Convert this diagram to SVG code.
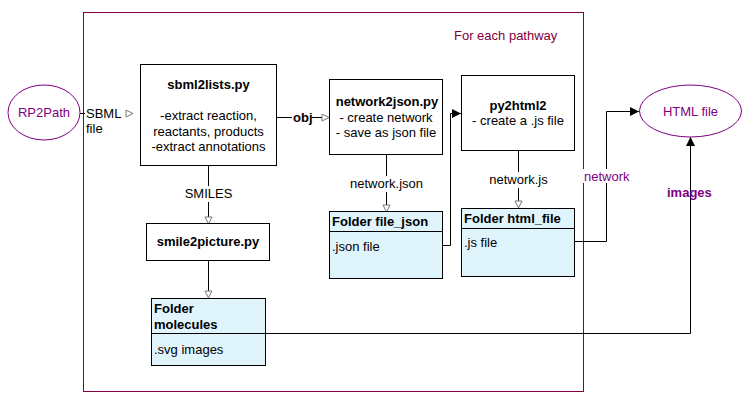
<svg xmlns="http://www.w3.org/2000/svg" width="745" height="401" viewBox="0 0 745 401">
<style>
text{font-family:"Liberation Sans",Arial,sans-serif;font-size:13px;fill:#000}
.b{font-weight:bold}
.p{fill:#800080}
.m{text-anchor:middle}
.box{fill:#fff;stroke:#000;stroke-width:1}
.fold{fill:#e0f4fc;stroke:#000;stroke-width:1}
.ln{fill:none;stroke:#000;stroke-width:1}
</style>
<defs>
<marker id="open" markerWidth="9" markerHeight="9" refX="8" refY="4" orient="auto" markerUnits="userSpaceOnUse">
<path d="M1,0.5 L8,4 L1,7.5 Z" fill="#fff" stroke="#777" stroke-width="1"/>
</marker>
<marker id="fill" markerWidth="10" markerHeight="10" refX="9" refY="5" orient="auto" markerUnits="userSpaceOnUse">
<path d="M0,0.5 L9,5 L0,9.5 Z" fill="#000"/>
</marker>
</defs>
<rect width="745" height="401" fill="#fff"/>
<g id="frame">
<rect x="83.5" y="12.5" width="500" height="379" fill="none" stroke="#800040" stroke-width="1"/>
<text x="454" y="40" style="fill:#800040">For each pathway</text>
</g>
<g id="connectors">
<line class="ln" x1="80" y1="113.5" x2="85" y2="113.5"/>
<path d="M126,110 L133,113.5 L126,117 Z" fill="#fff" stroke="#777"/>
<line class="ln" x1="277" y1="117.5" x2="292" y2="117.5"/>
<line class="ln" x1="312" y1="117.5" x2="329" y2="117.5" marker-end="url(#open)"/>
<text x="293" y="122" class="b">obj</text>
<line class="ln" x1="208.5" y1="166" x2="208.5" y2="186"/>
<line class="ln" x1="208.5" y1="202" x2="208.5" y2="224" marker-end="url(#open)"/>
<text x="208.5" y="198" class="m">SMILES</text>
<line class="ln" x1="208.5" y1="261" x2="208.5" y2="298" marker-end="url(#open)"/>
<line class="ln" x1="386.5" y1="155" x2="386.5" y2="176"/>
<line class="ln" x1="386.5" y1="192" x2="386.5" y2="212" marker-end="url(#open)"/>
<text x="386.5" y="188" class="m">network.json</text>
<path class="ln" d="M443,245.5 H450.5 V113.5 H461" marker-end="url(#fill)"/>
<line class="ln" x1="518.5" y1="151" x2="518.5" y2="172"/>
<line class="ln" x1="518.5" y1="188" x2="518.5" y2="208" marker-end="url(#open)"/>
<text x="518.5" y="184" class="m">network.js</text>
<path class="ln" d="M575,241.5 H606.5 V111.5 H639" marker-end="url(#fill)"/>
<rect x="583" y="169" width="46" height="14" fill="#fff"/>
<text x="584" y="181" class="p">network</text>
<path class="ln" d="M266,333.5 H690.5 V137" marker-end="url(#fill)"/>
<text x="667" y="197" class="b p">images</text>
</g>
<g id="rp2path">
<ellipse cx="44" cy="112.5" rx="36" ry="27.5" fill="#fff" stroke="#800080"/>
<text x="44" y="117" class="m p">RP2Path</text>
</g>
<g id="sbml-label">
<text x="86" y="118">SBML</text>
<text x="86" y="133">file</text>
</g>
<g id="sbml2lists">
<rect class="box" x="140.5" y="64.5" width="136" height="101"/>
<text x="208.5" y="89" class="m b">sbml2lists.py</text>
<text x="208.5" y="120" class="m">-extract reaction,</text>
<text x="208.5" y="136" class="m">reactants, products</text>
<text x="208.5" y="151" class="m">-extract annotations</text>
</g>
<g id="network2json">
<rect class="box" x="329.5" y="79.5" width="113" height="75"/>
<text x="387" y="106" class="m b">network2json.py</text>
<text x="386" y="122" class="m">- create network</text>
<text x="386" y="137" class="m">- save as json file</text>
</g>
<g id="py2html2">
<rect class="box" x="461.5" y="75.5" width="113" height="75"/>
<text x="518" y="110" class="m b">py2html2</text>
<text x="518" y="125" class="m">- create a .js file</text>
</g>
<g id="smile2picture">
<rect class="box" x="146.5" y="223.5" width="123" height="37"/>
<text x="208" y="246" class="m b">smile2picture.py</text>
</g>
<g id="folder-file-json">
<rect class="fold" x="329.5" y="211.5" width="113" height="67"/>
<line class="ln" x1="329.5" y1="231.5" x2="442.5" y2="231.5"/>
<text x="332" y="226" class="b">Folder file_json</text>
<text x="332" y="251">.json file</text>
</g>
<g id="folder-html-file">
<rect class="fold" x="461.5" y="208.5" width="113" height="68"/>
<line class="ln" x1="461.5" y1="228.5" x2="574.5" y2="228.5"/>
<text x="464" y="223" class="b">Folder html_file</text>
<text x="464" y="247">.js file</text>
</g>
<g id="folder-molecules">
<rect class="fold" x="151.5" y="298.5" width="114" height="67"/>
<line class="ln" x1="151.5" y1="333.5" x2="265.5" y2="333.5"/>
<text x="154" y="313" class="b">Folder</text>
<text x="154" y="329" class="b">molecules</text>
<text x="154" y="354">.svg images</text>
</g>
<g id="html-file">
<ellipse cx="690.5" cy="111" rx="51" ry="26" fill="#fff" stroke="#800080"/>
<text x="690.5" y="116" class="m p">HTML file</text>
</g>
</svg>
